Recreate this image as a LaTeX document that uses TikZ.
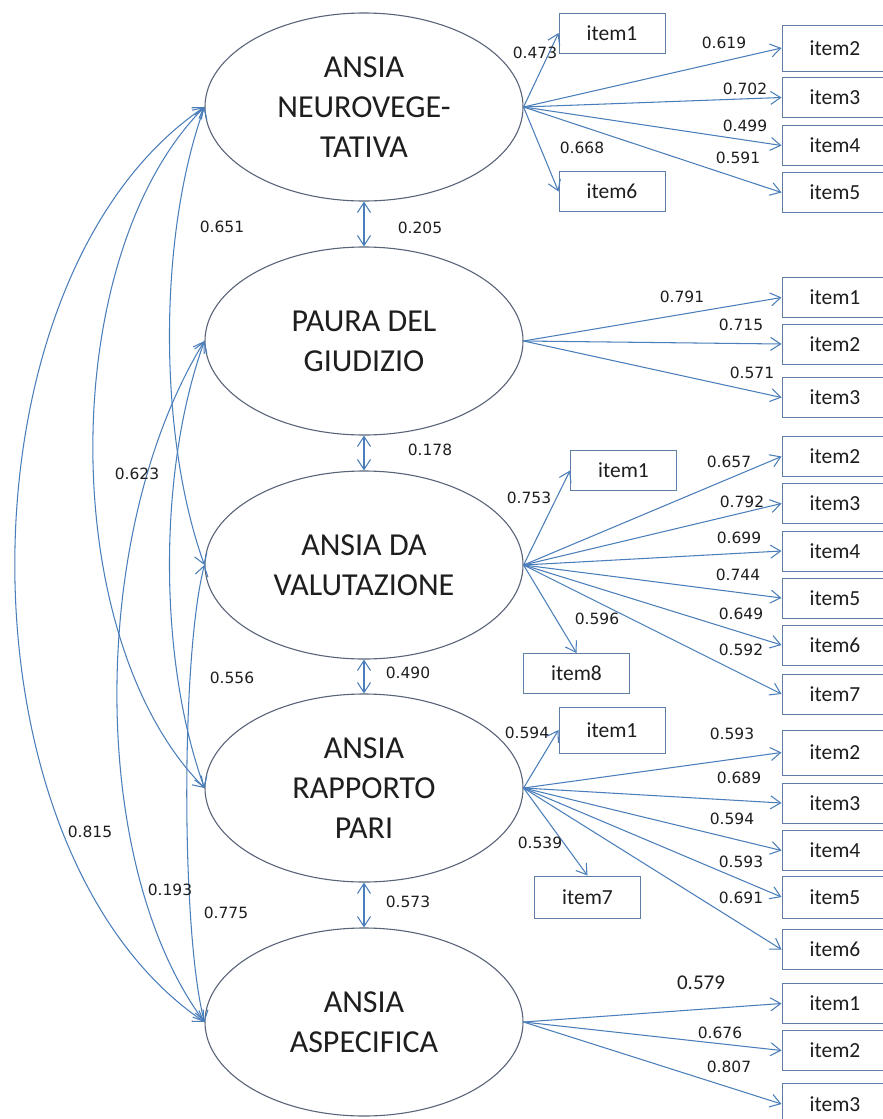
\documentclass[tikz,border=0pt]{standalone}
\usepackage{fontspec}
\setmainfont{Carlito}
\newfontfamily\numfont{DejaVu Sans}
\usetikzlibrary{shapes.geometric,arrows.meta}
\definecolor{linkblue}{RGB}{74,126,187}
\definecolor{rimgray}{RGB}{90,100,120}
\definecolor{boxedge}{RGB}{95,125,165}
\definecolor{inkgray}{RGB}{30,30,30}
\begin{document}
\begin{tikzpicture}[x=1pt,y=-1pt,
  factor/.style={ellipse, draw=rimgray, line width=1.1pt, minimum width=318pt,
    minimum height=188pt, inner sep=0pt, align=center,
    font=\fontsize{32}{40}\selectfont, text=inkgray},
  itembox/.style={draw=boxedge, line width=1pt, minimum width=106pt,
    minimum height=40pt, inner sep=0pt, font=\fontsize{21.5}{24}\selectfont, text=inkgray},
  barb/.tip={Straight Barb[length=10pt,width=13pt]},
  load/.style={draw=linkblue, line width=1.05pt, -barb},
  cov/.style={draw=linkblue, line width=1.05pt, barb-barb},
  coef/.style={font=\numfont\fontsize{15.5}{18}\selectfont, text=inkgray, inner sep=0pt},
]
\useasboundingbox[fill=white] (0,0) rectangle (883,1119);

% latent factors
\node[factor] (f1) at (364,107)  {ANSIA\\NEUROVEGE-\\TATIVA};
\node[factor] (f2) at (364,341)  {PAURA DEL\\GIUDIZIO};
\node[factor] (f3) at (364,565)  {ANSIA DA\\VALUTAZIONE};
\node[factor] (f4) at (364,788)  {ANSIA\\RAPPORTO\\PARI};
\node[factor] (f5) at (364,1022) {ANSIA\\ASPECIFICA};

% indicators of factor 1
\node[itembox] (a11) at (612,33)    {item1};
\node[itembox] (a16) at (612,191.5) {item6};
\node[itembox, minimum height=46pt] (a12) at (835,48) {item2};
\node[itembox] (a13) at (835,97.5)  {item3};
\node[itembox] (a14) at (835,145.5) {item4};
\node[itembox] (a15) at (835,192.5) {item5};

% indicators of factor 2
\node[itembox] (b1) at (835,297.5) {item1};
\node[itembox] (b2) at (835,344)   {item2};
\node[itembox] (b3) at (835,397.5) {item3};

% indicators of factor 3
\node[itembox] (c1) at (623.5,470.5) {item1};
\node[itembox] (c8) at (576.5,673.5) {item8};
\node[itembox] (c2) at (835,456.5) {item2};
\node[itembox] (c3) at (835,503.5) {item3};
\node[itembox] (c4) at (835,551)   {item4};
\node[itembox] (c5) at (835,598)   {item5};
\node[itembox] (c6) at (835,645)   {item6};
\node[itembox] (c7) at (835,694)   {item7};

% indicators of factor 4
\node[itembox, minimum height=46pt] (d1) at (612,730) {item1};
\node[itembox, minimum height=42pt] (d7) at (587.5,897) {item7};
\node[itembox, minimum height=45pt] (d2) at (835,752.5) {item2};
\node[itembox] (d3) at (835,803)   {item3};
\node[itembox] (d4) at (835,850.5) {item4};
\node[itembox, minimum height=42pt] (d5) at (835,897) {item5};
\node[itembox] (d6) at (835,949.5) {item6};

% indicators of factor 5
\node[itembox] (e1) at (835,1003.5) {item1};
\node[itembox] (e2) at (835,1050.5) {item2};
\node[itembox, minimum height=42pt] (e3) at (835,1104) {item3};

% loadings
\draw[load] (f1.east) -- (a11.west);
\draw[load] (f1.east) -- (a12.west);
\draw[load] (f1.east) -- (a13.west);
\draw[load] (f1.east) -- (a14.west);
\draw[load] (f1.east) -- (a15.west);
\draw[load] (f1.east) -- (a16.west);
\draw[load] (f2.east) -- (b1.west);
\draw[load] (f2.east) -- (b2.west);
\draw[load] (f2.east) -- (b3.west);
\draw[load] (f3.east) -- (c1.west);
\draw[load] (f3.east) -- (c2.west);
\draw[load] (f3.east) -- (c3.west);
\draw[load] (f3.east) -- (c4.west);
\draw[load] (f3.east) -- (c5.west);
\draw[load] (f3.east) -- (c6.west);
\draw[load] (f3.east) -- (c7.west);
\draw[load] (f3.east) -- (c8.north);
\draw[load] (f4.east) -- (d1.west);
\draw[load] (f4.east) -- (d2.west);
\draw[load] (f4.east) -- (d3.west);
\draw[load] (f4.east) -- (d4.west);
\draw[load] (f4.east) -- (d5.west);
\draw[load] (f4.east) -- (d6.west);
\draw[load] (f4.east) -- (d7.north);
\draw[load] (f5.east) -- (e1.west);
\draw[load] (f5.east) -- (e2.west);
\draw[load] (f5.east) -- (e3.west);

% loading values
\node[coef] at (535,53)  {0.473};
\node[coef] at (724,43)  {0.619};
\node[coef] at (745,89)  {0.702};
\node[coef] at (745,126) {0.499};
\node[coef] at (738,158) {0.591};
\node[coef] at (582,148) {0.668};
\node[coef] at (682,297) {0.791};
\node[coef] at (741,325) {0.715};
\node[coef] at (752,373) {0.571};
\node[coef] at (529,498) {0.753};
\node[coef] at (729,462) {0.657};
\node[coef] at (742,502) {0.792};
\node[coef] at (739,538) {0.699};
\node[coef] at (738,575) {0.744};
\node[coef] at (741,614) {0.649};
\node[coef] at (741,650) {0.592};
\node[coef] at (597,619) {0.596};
\node[coef] at (527,733) {0.594};
\node[coef] at (732,734) {0.593};
\node[coef] at (739,778) {0.689};
\node[coef] at (732,819) {0.594};
\node[coef] at (741,862) {0.593};
\node[coef] at (741,898) {0.691};
\node[coef] at (540,843) {0.539};
\node[coef, font=\fontsize{21}{24}\selectfont] at (701,983) {0.579};
\node[coef] at (720,1033) {0.676};
\node[coef] at (729,1067) {0.807};

% correlations between neighbouring factors
\draw[cov] (f1.south) -- (f2.north);
\draw[cov] (f2.south) -- (f3.north);
\draw[cov] (f3.south) -- (f4.north);
\draw[cov] (f4.south) -- (f5.north);
\node[coef] at (420,228) {0.205};
\node[coef] at (430,450) {0.178};
\node[coef] at (408,673) {0.490};
\node[coef] at (408,902) {0.573};

% correlations between distant factors
\draw[cov] (f1.west) .. controls (-48,278) and (-48,851) .. (f5.west);
\draw[cov] (f1.west) .. controls (56,256) and (56,639) .. (f4.west);
\draw[cov] (f1.west) .. controls (158,236) and (158,436) .. (f3.west);
\draw[cov] (f2.west) .. controls (158,470) and (158,659) .. (f4.west);
\draw[cov] (f2.west) .. controls (88,531) and (88,865) .. (f5.west);
\draw[cov] (f3.west) .. controls (181,655) and (181,932) .. (f5.west);
\node[coef] at (222,227) {0.651};
\node[coef] at (137,474) {0.623};
\node[coef] at (232,678) {0.556};
\node[coef] at (90,832)  {0.815};
\node[coef] at (170,890) {0.193};
\node[coef] at (226,913) {0.775};
\end{tikzpicture}
\end{document}
